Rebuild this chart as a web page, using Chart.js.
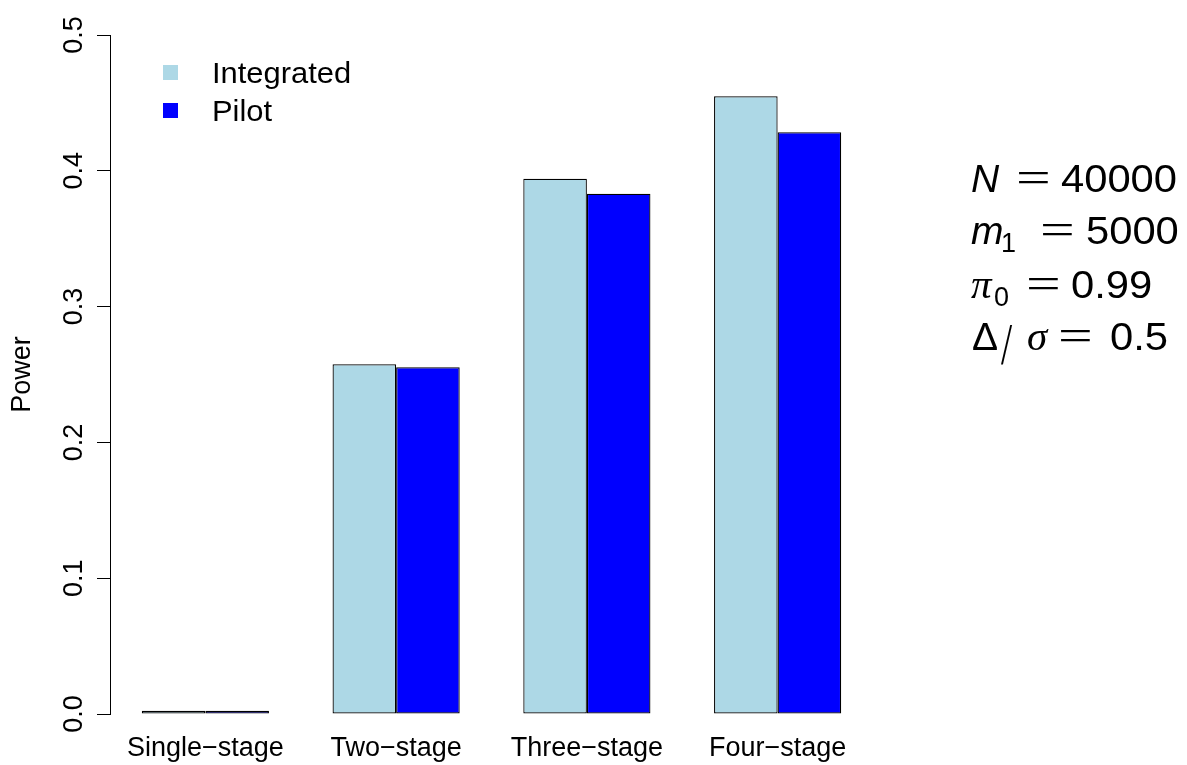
<!DOCTYPE html>
<html>
<head>
<meta charset="utf-8">
<script src="https://cdn.jsdelivr.net/npm/chart.js@4/dist/chart.umd.min.js"></script>
<style>
  html, body { margin: 0; padding: 0; background: #fff; }
  #wrap { width: 1187px; height: 765px; }
</style>
</head>
<body>
<div id="wrap"><canvas id="c" width="1187" height="765"></canvas></div>
<script>
// Designs compared
const designs = ['Single\u2212stage', 'Two\u2212stage', 'Three\u2212stage', 'Four\u2212stage'];
// Power of each design
const integratedPower = [0.0024, 0.2575, 0.3942, 0.4549];
const pilotPower = [0.0024, 0.2553, 0.3831, 0.4283];
// Y axis tick values
const powerTicks = [0.0, 0.1, 0.2, 0.3, 0.4, 0.5];

const seriesNames = ['Integrated', 'Pilot'];
const seriesColors = ['#ADD8E6', '#0000FF'];

const SANS = '"Liberation Sans", Arial, Helvetica, sans-serif';
const SERIF = '"Liberation Serif", "DejaVu Serif", serif';
Chart.defaults.font.family = SANS;
Chart.defaults.color = '#000';

// Write one piece of text, optionally stretched
function put(ctx, s, font, x, y, sx, sy) {
  ctx.save();
  ctx.font = font;
  ctx.fillStyle = '#000';
  ctx.textAlign = 'left';
  ctx.textBaseline = 'alphabetic';
  ctx.translate(x, y);
  ctx.scale(sx || 1, sy || 1);
  ctx.fillText(s, 0, 0);
  ctx.restore();
}

// Legend in the upper left of the plot
const legendInside = {
  id: 'legendInside',
  afterDraw(chart) {
    const ctx = chart.ctx;
    chart.data.datasets.forEach((ds, i) => {
      const top = 65 + i * 38;
      ctx.save();
      ctx.fillStyle = ds.backgroundColor;
      ctx.fillRect(163, top, 15, 15);
      ctx.restore();
      put(ctx, ds.label, '30px ' + SANS, 212, top + 7.5 + 10.7, 1.03);
    });
  }
};

// Parameter block to the right of the plot
const paramText = {
  id: 'paramText',
  afterDraw(chart) {
    const ctx = chart.ctx;
    const num = '39px ' + SANS;
    const ital = 'italic 39px ' + SANS;
    const sub = '27px ' + SANS;
    const eq = '44px ' + SERIF;
    const eqx = 1.4;
    const greek = 'italic 41px ' + SERIF;
    const sx = 1.07;

    // N = 40000
    put(ctx, 'N', ital, 971, 192);
    put(ctx, '=', eq, 1016, 192, eqx);
    put(ctx, '40000', num, 1061, 192, sx);

    // m1 = 5000
    put(ctx, 'm', ital, 971, 244);
    put(ctx, '1', sub, 1001, 252);
    put(ctx, '=', eq, 1040, 244, eqx);
    put(ctx, '5000', num, 1086, 244, sx);

    // pi0 = 0.99
    put(ctx, '\u03C0', greek, 971, 298);
    put(ctx, '0', sub, 994, 306);
    put(ctx, '=', eq, 1026, 298, eqx);
    put(ctx, '0.99', num, 1071, 298, sx);

    // Delta / sigma = 0.5
    put(ctx, '\u0394', num, 972, 350);
    put(ctx, '/', '40px ' + SERIF, 1001, 364, 1, 1.46);
    put(ctx, '\u03C3', greek, 1027, 350);
    put(ctx, '=', eq, 1058, 350, eqx);
    put(ctx, '0.5', num, 1110, 350, sx);
  }
};

new Chart(document.getElementById('c'), {
  type: 'bar',
  data: {
    labels: designs,
    datasets: [
      {
        label: seriesNames[0],
        data: integratedPower,
        backgroundColor: seriesColors[0],
        borderColor: '#000',
        borderWidth: 1.25,
        borderSkipped: false,
        categoryPercentage: 2 / 3,
        barPercentage: 1.0
      },
      {
        label: seriesNames[1],
        data: pilotPower,
        backgroundColor: seriesColors[1],
        borderColor: '#000',
        borderWidth: 1.25,
        borderSkipped: false,
        categoryPercentage: 2 / 3,
        barPercentage: 1.0
      }
    ]
  },
  options: {
    responsive: false,
    animation: false,
    layout: { padding: { left: 0, top: 35, right: 314, bottom: 0 } },
    plugins: {
      legend: { display: false },
      tooltip: { enabled: false }
    },
    scales: {
      x: {
        grid: { display: false },
        border: { display: false },
        ticks: {
          font: { size: 27 },
          color: '#000',
          padding: 10,
          maxRotation: 0,
          autoSkip: false
        },
        afterFit(scale) { scale.height = 51; }
      },
      y: {
        min: 0,
        max: 0.5,
        afterBuildTicks(scale) {
          scale.ticks = powerTicks.map(v => ({ value: v }));
        },
        grid: {
          display: true,
          drawOnChartArea: false,
          drawTicks: true,
          tickLength: 13,
          tickColor: '#000',
          tickWidth: 1
        },
        border: { display: true, color: '#000', width: 1 },
        ticks: {
          font: { size: 27 },
          color: '#000',
          minRotation: 90,
          maxRotation: 90,
          crossAlign: 'center',
          padding: 4,
          callback: v => Number(v).toFixed(1)
        },
        title: {
          display: true,
          text: 'Power',
          font: { size: 27 },
          color: '#000',
          padding: { top: 6, bottom: 0 }
        },
        afterFit(scale) { scale.width = 110; }
      }
    }
  },
  plugins: [legendInside, paramText]
});
</script>
</body>
</html>
